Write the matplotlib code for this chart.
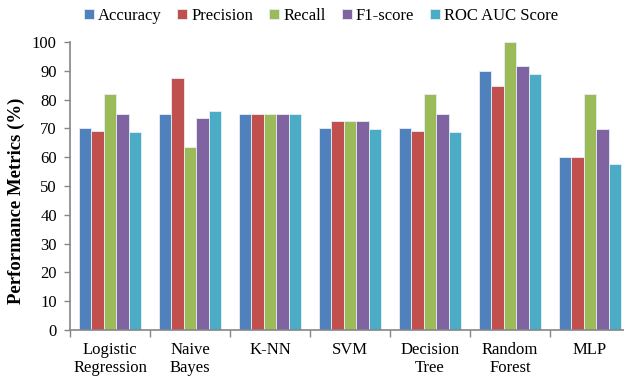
import matplotlib
matplotlib.use("Agg")
import matplotlib.pyplot as plt
import numpy as np

models = ["Logistic\nRegression", "Naive\nBayes", "K-NN", "SVM",
          "Decision\nTree", "Random\nForest", "MLP"]
metrics = ["Accuracy", "Precision", "Recall", "F1-score", "ROC AUC Score"]

accuracy = [70.0, 75.0, 75.0, 70.0, 70.0, 90.0, 60.0]
precision = [69.2, 87.5, 75.0, 72.7, 69.2, 84.6, 60.0]
recall = [81.8, 63.6, 75.0, 72.7, 81.8, 100.0, 81.8]
f1_score = [75.0, 73.7, 75.0, 72.7, 75.0, 91.7, 69.8]
roc_auc = [68.7, 76.1, 75.0, 69.7, 68.7, 88.9, 57.6]

series = [accuracy, precision, recall, f1_score, roc_auc]
colors = ["#4F81BD", "#C0504D", "#9BBB59", "#8064A2", "#4BACC6"]

plt.rcParams["font.family"] = ["Liberation Serif", "DejaVu Serif"]
plt.rcParams["font.size"] = 12

fig = plt.figure(figsize=(6.24, 3.79), dpi=100)
ax = fig.add_axes([70 / 624, 49 / 379, 560 / 624, 288 / 379])

x = np.arange(len(models))
bw = 0.155
for i, (vals, c, name) in enumerate(zip(series, colors, metrics)):
    ax.bar(x + (i - 2) * bw, vals, width=bw, color=c, edgecolor="#E8EEF4",
           linewidth=0.6, label=name, zorder=2)

ax.set_xlim(-0.5, len(models) - 0.5)
ax.set_ylim(0, 100)
ax.set_yticks(np.arange(0, 101, 10))
ax.set_xticks(x)
ax.set_xticklabels(models, linespacing=1.15)
ax.set_xticks(np.arange(-0.5, len(models), 1.0), minor=True)
ax.tick_params(axis="x", which="major", length=0, pad=9)
ax.tick_params(axis="x", which="minor", length=5, color="#868686", width=1)
ax.tick_params(axis="y", length=4.5, color="#868686", width=1, pad=5)

for s in ["top", "right"]:
    ax.spines[s].set_visible(False)
for s in ["left", "bottom"]:
    ax.spines[s].set_color("#868686")
    ax.spines[s].set_linewidth(1.2)

ax.set_ylabel("Performance Metrics (%)", fontweight="bold", fontsize=13.5)
ax.yaxis.set_label_coords(-0.08, 0.447)

fig.legend(loc="center", bbox_to_anchor=(321 / 624, 1 - 16 / 379), ncol=5,
           frameon=False, handlelength=0.6, handleheight=0.6,
           handletextpad=0.25, columnspacing=0.95, borderaxespad=0)

fig.savefig("out.png", dpi=100)
